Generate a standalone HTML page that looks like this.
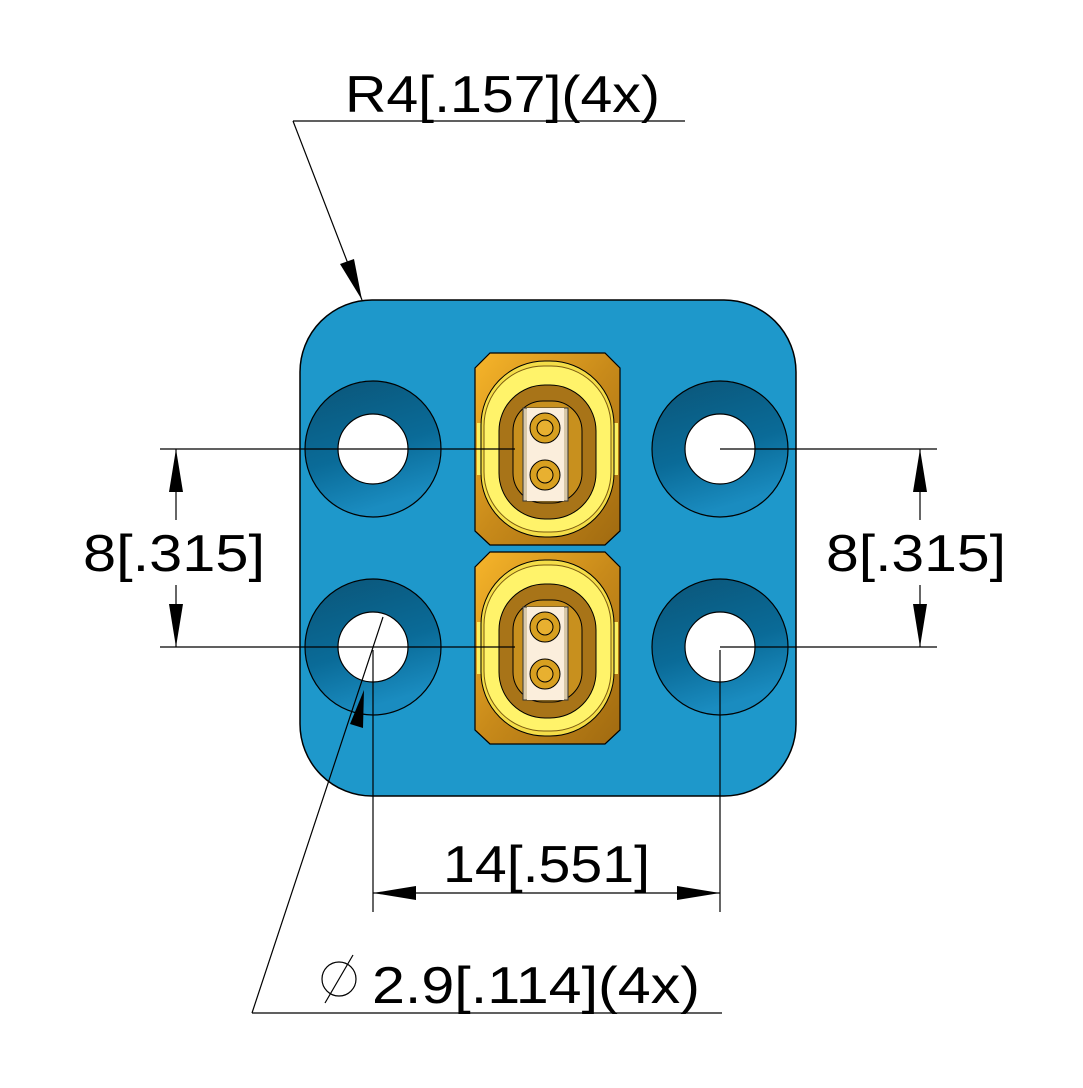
<!DOCTYPE html>
<html><head><meta charset="utf-8"><style>html,body{margin:0;padding:0;background:#fff}</style></head>
<body>
<svg width="1083" height="1083" viewBox="0 0 1083 1083" xmlns="http://www.w3.org/2000/svg">
<defs>
<linearGradient id="hole" x1="0" y1="0" x2="0.3" y2="1">
<stop offset="0" stop-color="#0b5578"/><stop offset="0.6" stop-color="#0a6b98"/><stop offset="1" stop-color="#1a8cc0"/>
</linearGradient>
<linearGradient id="gold" x1="0" y1="0" x2="1" y2="1">
<stop offset="0" stop-color="#f7b52a"/><stop offset="0.5" stop-color="#c88a1a"/><stop offset="1" stop-color="#a06a10"/>
</linearGradient>
<g id="conn">
<path d="M15 0 H130 L145 15 V178 L130 192 H15 L0 178 V15 Z" fill="url(#gold)" stroke="#000" stroke-width="1.2"/>
<rect x="2" y="70" width="141" height="52" fill="#fbf060"/>
<rect x="6" y="8" width="133" height="176" rx="64" fill="#f4dd48" stroke="#000" stroke-width="1"/>
<rect x="9" y="13" width="127" height="166" rx="60" fill="#fff36a" stroke="#7a5a10" stroke-width="1"/>
<rect x="24" y="32" width="97" height="134" rx="46" fill="#a87418" stroke="#000" stroke-width="1"/>
<rect x="38" y="48" width="69" height="102" rx="30" fill="#c8901e" stroke="#000" stroke-width="1"/>
<rect x="48" y="55" width="45" height="93" fill="#d8c8a8" stroke="#333" stroke-width="1"/>
<rect x="52" y="55" width="37" height="93" fill="#fbeedc"/>
<circle cx="70" cy="75" r="15" fill="#d8a020" stroke="#000" stroke-width="1"/>
<circle cx="70" cy="75" r="8" fill="#e8b030" stroke="#000" stroke-width="1"/>
<circle cx="70" cy="122" r="15" fill="#d8a020" stroke="#000" stroke-width="1"/>
<circle cx="70" cy="122" r="8" fill="#e8b030" stroke="#000" stroke-width="1"/>
</g>
</defs>
<rect x="300" y="300" width="496" height="496" rx="72" fill="#1e98cb" stroke="#000" stroke-width="1.5"/>
<g stroke="#000" stroke-width="1.2">
<circle cx="373" cy="449" r="68" fill="url(#hole)"/>
<circle cx="720" cy="449" r="68" fill="url(#hole)"/>
<circle cx="373" cy="647" r="68" fill="url(#hole)"/>
<circle cx="720" cy="647" r="68" fill="url(#hole)"/>
<circle cx="373" cy="449" r="35" fill="#fff"/>
<circle cx="720" cy="449" r="35" fill="#fff"/>
<circle cx="373" cy="647" r="35" fill="#fff"/>
<circle cx="720" cy="647" r="35" fill="#fff"/>
</g>
<use href="#conn" x="475" y="353"/>
<use href="#conn" x="475" y="552"/>
<g stroke="#000" stroke-width="1.2" fill="none">
<line x1="160" y1="449" x2="515" y2="449"/>
<line x1="160" y1="647" x2="515" y2="647"/>
<line x1="720" y1="449" x2="937" y2="449"/>
<line x1="720" y1="647" x2="937" y2="647"/>
<line x1="176" y1="449" x2="176" y2="520"/><line x1="176" y1="585" x2="176" y2="647"/>
<line x1="920" y1="449" x2="920" y2="520"/><line x1="920" y1="585" x2="920" y2="647"/>
<line x1="373" y1="650" x2="373" y2="912"/>
<line x1="720" y1="650" x2="720" y2="912"/>
<line x1="373" y1="893" x2="720" y2="893"/>
<line x1="293" y1="121" x2="685" y2="121"/>
<line x1="293" y1="121" x2="362" y2="300"/>
<line x1="252" y1="1013" x2="722" y2="1013"/>
<line x1="252" y1="1013" x2="383" y2="617"/>
</g>
<g fill="#000">
<polygon points="176,449 169,492 183,492"/><polygon points="176,647 169,604 183,604"/>
<polygon points="920,449 913,492 927,492"/><polygon points="920,647 913,604 927,604"/>
<polygon points="373,893 416,886 416,900"/><polygon points="720,893 677,886 677,900"/>
<polygon points="362,300 340,264 354,259"/>
<polygon points="364,690 350,724 363,728"/>
</g>
<g font-family="Liberation Sans, sans-serif" font-size="52" fill="#000" lengthAdjust="spacingAndGlyphs">
<text x="345" y="112" textLength="315" lengthAdjust="spacingAndGlyphs">R4[.157](4x)</text>
<text x="83" y="571" textLength="182" lengthAdjust="spacingAndGlyphs">8[.315]</text>
<text x="826" y="571" textLength="180" lengthAdjust="spacingAndGlyphs">8[.315]</text>
<text x="443" y="882" textLength="207" lengthAdjust="spacingAndGlyphs">14[.551]</text>
<text x="372" y="1003" textLength="328" lengthAdjust="spacingAndGlyphs">2.9[.114](4x)</text>
</g>
<g stroke="#000" stroke-width="1.2" fill="none">
<circle cx="339" cy="979" r="17"/><line x1="325" y1="1003" x2="353" y2="955"/>
</g>
</svg>
</body></html>
